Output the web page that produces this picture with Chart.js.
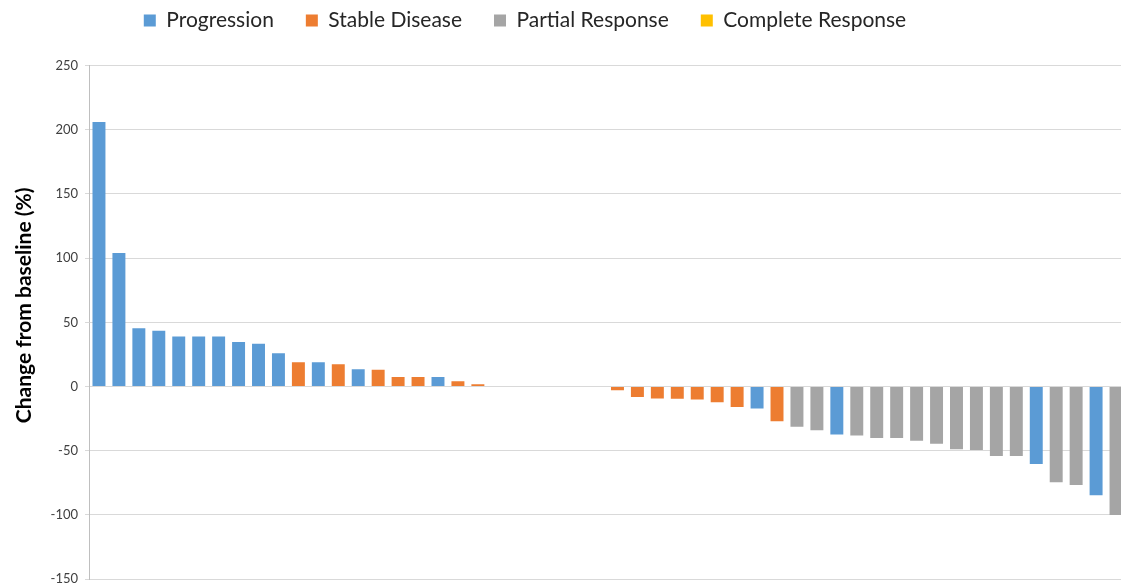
<!doctype html>
<html>
<head>
<title>Change from baseline waterfall</title>
<script src="https://cdn.jsdelivr.net/npm/chart.js@4.4.0/dist/chart.umd.min.js"></script>
<style>
	body { margin: 0; overflow: hidden; background: #fff; }
	#wrap { width: 1126px; height: 594px; }
</style>
</head>
<body>
<div id="wrap"><canvas id="canvas"></canvas></div>
<script>
// one entry per patient, sorted as in the plot
var changeValues = [
	206, 104, 45.5, 43.5, 39, 39, 39, 34.7, 33.4, 26,
	19, 19, 17.3, 13.4, 13.1, 7.5, 7.5, 7.5, 4.1, 1.8,
	0, 0, 0, 0, 0, 0,
	-2.9, -8.2, -9.2, -9.5, -10, -12.3, -16, -17, -27,
	-31.3, -34, -37.4, -38.2, -40, -40, -42.2, -44.5, -48.9, -49.4,
	-54, -54, -60.3, -74.6, -76.7, -84.6, -100
];
// PD = progression, SD = stable disease, PR = partial response, CR = complete response
var responseCodes = [
	'PD','PD','PD','PD','PD','PD','PD','PD','PD','PD',
	'SD','PD','SD','PD','SD','SD','SD','PD','SD','SD',
	'SD','SD','SD','SD','SD','SD',
	'SD','SD','SD','SD','SD','SD','SD','PD','SD',
	'PR','PR','PD','PR','PR','PR','PR','PR','PR','PR',
	'PR','PR','PD','PR','PR','PD','PR'
];
var seriesCodes = ['PD', 'SD', 'PR', 'CR'];
var seriesNames = ['Progression', 'Stable Disease', 'Partial Response', 'Complete Response'];
var seriesColors = ['#5B9BD5', '#ED7D31', '#A5A5A5', '#FFC000'];
var yTicks = [-150, -100, -50, 0, 50, 100, 150, 200, 250];

var patientLabels = changeValues.map(function(v, i){ return 'Pt ' + (i + 1); });

var datasets = seriesCodes.map(function(code, s){
	return {
		label: seriesNames[s],
		backgroundColor: seriesColors[s],
		borderWidth: 0,
		categoryPercentage: 1,
		barPercentage: 0.65,
		data: changeValues.map(function(v, i){ return responseCodes[i] === code ? v : null; })
	};
});

// legend sits a little left of centre and close to the top in the original,
// and the axis title is a bit above the middle of the axis
var placement = {
	id: 'placement',
	beforeInit: function(chart){
		var fit = chart.legend.fit;
		chart.legend.fit = function(){ fit.call(this); this.height = 65.5; };
	},
	afterLayout: function(chart){
		var lg = chart.legend;
		lg.left -= 38; lg.right -= 38;
		lg.top -= 22; lg.bottom -= 22;

		var y = chart.scales.y;
		if (!y._titleWrapped) {
			var drawTitle = y.drawTitle;
			y.drawTitle = function(){
				this.top -= 17; this.bottom -= 17;
				drawTitle.apply(this, arguments);
				this.top += 17; this.bottom += 17;
			};
			y._titleWrapped = true;
		}
	}
};

Chart.defaults.font.family = 'Lato';
Chart.defaults.color = '#404040';

window.onload = function(){
	var ctx = document.getElementById('canvas').getContext('2d');
	window.myBar = new Chart(ctx, {
		type: 'bar',
		data: { labels: patientLabels, datasets: datasets },
		plugins: [placement],
		options: {
			responsive: true,
			maintainAspectRatio: false,
			animation: false,
			layout: { padding: 0 },
			plugins: {
				tooltip: { enabled: false },
				legend: {
					position: 'top',
					labels: {
						boxWidth: 12,
						boxHeight: 12,
						padding: 32,
						color: '#262626',
						font: { size: 21 }
					}
				}
			},
			scales: {
				x: {
					stacked: true,
					display: false
				},
				y: {
					stacked: true,
					min: -150,
					max: 250,
					afterBuildTicks: function(scale){
						scale.ticks = yTicks.map(function(v){ return { value: v }; });
					},
					afterFit: function(scale){ scale.width = 89; },
					grid: {
						color: '#d9d9d9',
						tickColor: '#d9d9d9',
						tickLength: 4,
						lineWidth: 1
					},
					border: { color: '#bfbfbf' },
					ticks: {
						padding: 7,
						color: '#404040',
						font: { size: 13 }
					},
					title: {
						display: true,
						text: 'Change from baseline (%)',
						color: '#000',
						padding: { top: 12, bottom: 0 },
						font: { size: 21, weight: 'bold' }
					}
				}
			}
		}
	});
};
</script>
</body>
</html>
